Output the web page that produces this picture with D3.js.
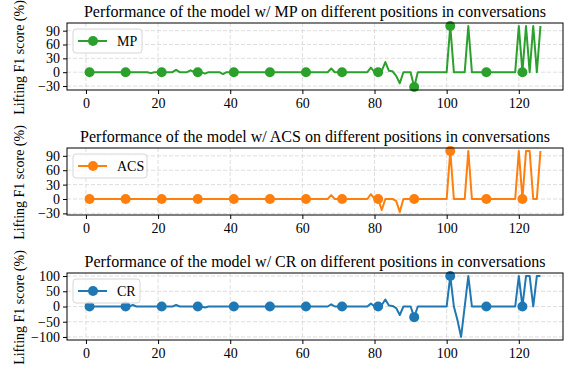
<!DOCTYPE html>
<html>
<head>
<meta charset="utf-8">
<script src="https://cdn.jsdelivr.net/npm/d3@7"></script>
<style>
  body { margin: 0; background: #fff; }
  svg text { font-family: "Liberation Serif", "Times New Roman", serif; fill: #000; }
</style>
</head>
<body>
<div id="chart"></div>
<script>
// position in conversation 1..126
const positions = d3.range(1, 127);

const mpValues = [
  0, 0, 0, 0, 0, 0, 0, 0, 0, 0,
  0, 0, 0, 0, 0, 0, 0, -2, 0, 0,
  0, 0, 0, 0, 5, 0, 0, 0, 4, 0,
  0, 0, -3, 0, 0, 0, 0, -4, 0, 0,
  0, 0, 0, 0, 0, 0, 0, 0, 0, 0,
  0, 0, 0, 0, 0, 0, 0, 0, 0, 0,
  0, 0, 0, 0, 0, 0, 0, 8, 0, 0,
  0, 0, 0, 0, 0, 0, 0, 0, 10, 0,
  0, 3, 22, 3, 2, -8, -24, 0, 0, 0,
  -32, 0, 0, 0, 0, 0, 0, 0, 0, 0,
  100, 0, 0, 0, 0, 100, 0, 0, 0, 0,
  0, 0, 0, 0, 0, 0, 0, 0, 0, 100,
  0, 100, 0, 100, 0, 100
];

const acsValues = [
  0, 0, 0, 0, 0, 0, 0, 0, 0, 0,
  0, 0, 0, 0, 0, 0, 0, 0, 0, 0,
  0, 0, 0, 0, 0, 0, 0, 0, 0, 0,
  0, 0, 0, 0, 0, 0, 0, 0, 0, 0,
  0, 0, 0, 0, 0, 0, 0, 0, 0, 0,
  0, 0, 0, 0, 0, 0, 0, 0, 0, 0,
  0, 0, 0, 0, 0, 0, 0, 8, 0, 0,
  0, 0, 0, 0, 0, 0, 0, 0, 10, 0,
  0, -23, 0, 0, 0, -4, -27, 0, 0, 0,
  0, 0, 0, 0, 0, 0, 0, 0, 0, 0,
  100, 0, 0, 0, 0, 100, 0, 0, 0, 0,
  0, 0, 0, 0, 0, 0, 0, 0, 0, 100,
  0, 100, 100, 0, 0, 100
];

const crValues = [
  0, 0, 0, 0, 0, 0, 0, 0, 0, 0,
  0, 0, 5, 0, 0, 0, 0, 0, 0, 0,
  0, 0, 0, 0, 5, 0, 0, 0, 0, 0,
  0, 0, -3, 0, 0, 0, 0, 0, 0, 0,
  0, 0, 0, 0, 0, 0, 0, 0, 0, 0,
  0, 0, 0, 0, 0, 0, 0, 0, 0, 0,
  0, 0, 0, 0, 0, 0, 0, 7, 0, 0,
  0, 0, 0, 0, 0, 0, 0, 0, 10, 0,
  0, 5, 23, 3, 2, -5, -28, 0, 0, 0,
  -35, 0, 0, 0, 0, 0, 0, 0, 0, 0,
  100, 0, -45, -100, 0, 100, 0, 0, 0, 0,
  0, 0, 0, 0, 0, 0, 0, 0, 0, 100,
  0, 100, 100, 0, 100, 100
];

const xTicks = [0, 20, 40, 60, 80, 100, 120];
const yTicksSmall = [-30, 0, 30, 60, 90];
const yTicksWide = [-100, -50, 0, 50, 100];

const panels = [
  { name: 'MP', values: mpValues, color: '#2ca02c', yTicks: yTicksSmall, top: 23, bottom: 90 },
  { name: 'ACS', values: acsValues, color: '#ff7f0e', yTicks: yTicksSmall, top: 148, bottom: 215 },
  { name: 'CR', values: crValues, color: '#1f77b4', yTicks: yTicksWide, top: 273, bottom: 340 }
];

const W = 568, H = 369;
const left = 67, right = 563;
const markEvery = 10;
const serif = '"Liberation Serif", "Times New Roman", serif';

const svg = d3.select('#chart').append('svg')
  .attr('width', W)
  .attr('height', H);

// matplotlib-like 5% padding
function padded(ext) {
  const pad = (ext[1] - ext[0]) * 0.05;
  return [ext[0] - pad, ext[1] + pad];
}

const x = d3.scaleLinear()
  .domain(padded(d3.extent(positions)))
  .range([left, right]);

panels.forEach((p) => {
  const data = positions.map((pos, i) => ({ pos: pos, v: p.values[i] }));
  const y = d3.scaleLinear()
    .domain(padded(d3.extent(p.values)))
    .range([p.bottom, p.top]);

  const g = svg.append('g');

  // grid
  g.append('g')
    .selectAll('line')
    .data(xTicks)
    .join('line')
    .attr('x1', (d) => x(d)).attr('x2', (d) => x(d))
    .attr('y1', p.top).attr('y2', p.bottom)
    .attr('stroke', '#dedede')
    .attr('stroke-dasharray', '4,2');
  g.append('g')
    .selectAll('line')
    .data(p.yTicks)
    .join('line')
    .attr('x1', left).attr('x2', right)
    .attr('y1', (d) => y(d)).attr('y2', (d) => y(d))
    .attr('stroke', '#dedede')
    .attr('stroke-dasharray', '4,2');

  // axes
  const xAxis = g.append('g')
    .attr('transform', `translate(0,${p.bottom})`)
    .call(d3.axisBottom(x).tickValues(xTicks).tickSize(4).tickPadding(4));
  const yAxis = g.append('g')
    .attr('transform', `translate(${left},0)`)
    .call(d3.axisLeft(y).tickValues(p.yTicks).tickSize(4).tickPadding(3)
      .tickFormat((d) => (d < 0 ? '\u2212' + Math.abs(d) : d)));
  [xAxis, yAxis].forEach((a) => {
    a.attr('font-family', serif);
    a.select('.domain').remove();
    a.selectAll('text').style('font-size', '14px').attr('fill', '#000');
    a.selectAll('line').attr('stroke', '#000');
  });

  // line
  const line = d3.line().x((d) => x(d.pos)).y((d) => y(d.v));
  g.append('path')
    .datum(data)
    .attr('d', line)
    .attr('fill', 'none')
    .attr('stroke', p.color)
    .attr('stroke-width', 2)
    .attr('stroke-linejoin', 'round');

  g.selectAll('circle')
    .data(data.filter((d, i) => i % markEvery === 0))
    .join('circle')
    .attr('cx', (d) => x(d.pos))
    .attr('cy', (d) => y(d.v))
    .attr('r', 5)
    .attr('fill', p.color);

  // frame
  g.append('rect')
    .attr('x', left).attr('y', p.top)
    .attr('width', right - left).attr('height', p.bottom - p.top)
    .attr('fill', 'none')
    .attr('stroke', '#000')
    .attr('stroke-width', 1);

  // title
  g.append('text')
    .attr('x', (left + right) / 2)
    .attr('y', p.top - 6)
    .attr('text-anchor', 'middle')
    .style('font-size', '16px')
    .text(`Performance of the model w/ ${p.name} on different positions in conversations`);

  // y label
  g.append('text')
    .attr('transform', `translate(24,${(p.top + p.bottom) / 2 + 1}) rotate(-90)`)
    .attr('text-anchor', 'middle')
    .style('font-size', '14px')
    .text('Lifting F1 score (%)');

  // legend
  const lg = g.append('g').attr('transform', `translate(73,${p.top + 6})`);
  lg.append('rect')
    .attr('width', p.name === 'ACS' ? 74 : (p.name === 'CR' ? 67 : 69))
    .attr('height', 24)
    .attr('rx', 3)
    .attr('fill', 'rgba(255,255,255,0.8)')
    .attr('stroke', '#d6d6d6');
  lg.append('line')
    .attr('x1', 5).attr('x2', 34)
    .attr('y1', 12).attr('y2', 12)
    .attr('stroke', p.color).attr('stroke-width', 2);
  lg.append('circle')
    .attr('cx', 20).attr('cy', 12).attr('r', 5)
    .attr('fill', p.color);
  lg.append('text')
    .attr('x', 44).attr('y', 17)
    .style('font-size', '14px')
    .text(p.name);
});
</script>
</body>
</html>
